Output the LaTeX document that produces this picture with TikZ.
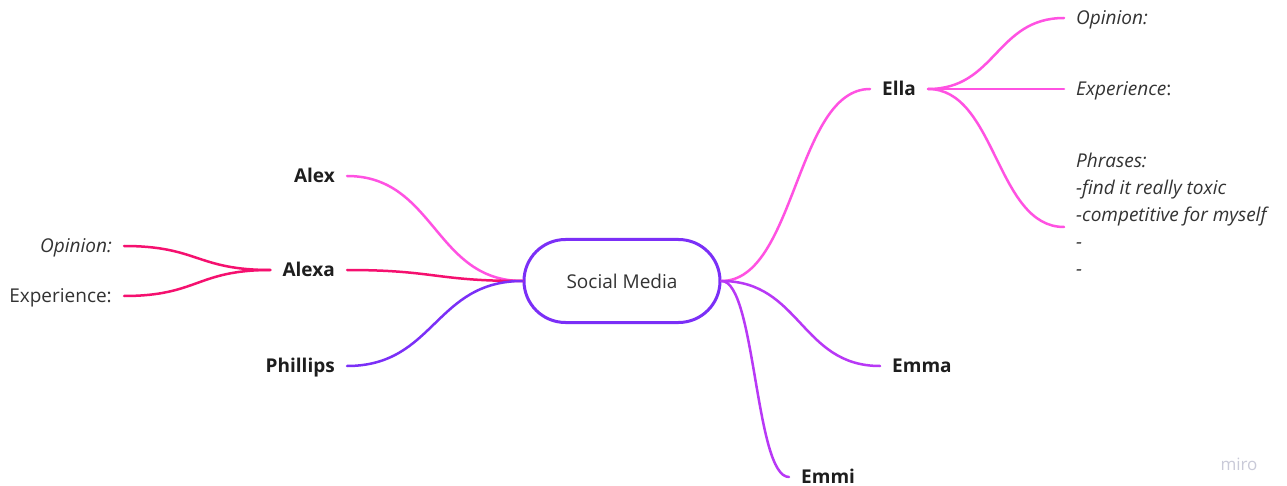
\documentclass[tikz,border=0pt]{standalone}
\usepackage{fontspec}
\setmainfont{Open Sans}
\usetikzlibrary{positioning}
\definecolor{pinkline}{HTML}{FF52E2}
\definecolor{redline}{HTML}{F5106F}
\definecolor{violetline}{HTML}{7B2FF7}
\definecolor{purpleline}{HTML}{B838F6}
\definecolor{textdark}{HTML}{1E1E1E}
\definecolor{textgray}{HTML}{333333}
\definecolor{mirogray}{HTML}{C9CAD8}

\begin{document}
\begin{tikzpicture}[x=1pt, y=-1pt,
  hub/.style = {draw = violetline, line width = 3pt, rounded corners = 41.5pt,
    minimum width = 196pt, minimum height = 83pt, text = textgray,
    font = \fontsize{19}{23}\selectfont},
  topic/.style = {text = textdark, inner xsep = 12pt, inner ysep = 0pt,
    text height = 13.6pt, text depth = 0pt, font = \bfseries\fontsize{19}{23}\selectfont},
  leaf/.style = {text = textgray, inner xsep = 12pt, inner ysep = 0pt,
    text height = 13.6pt, text depth = 0pt, font = \fontsize{19}{23}\selectfont},
  link/.style = {line width = 2.5pt, line cap = round}]

\fill[white] (0,0) rectangle (1287,486);
\useasboundingbox (0,0) rectangle (1287,486);

\node[hub] (sm) at (622,281) {Social Media};

\node[topic, anchor = east] (alex) at (347,176) {Alex};
\node[topic, anchor = east] (alexa) at (347,270) {Alexa};
\node[topic, anchor = east] (phillips) at (347,366) {Phillips};
\node[leaf, anchor = east] (aopinion) at (124,246) {\itshape Opinion:};
\node[leaf, anchor = east] (aexperience) at (124,296) {Experience:};

\node[topic, anchor = west] (ella) at (870,89) {Ella};
\node[topic, anchor = west] (emma) at (880,366) {Emma};
\node[topic, anchor = west] (emmi) at (789,477) {Emmi};
\node[leaf, anchor = west] (eopinion) at (1064,18) {\itshape Opinion:};
\node[leaf, anchor = west] (eexperience) at (1064,89) {\textit{Experience}:};
\coordinate (ephrases) at (1064,227);
\node[text = textgray, anchor = north west, inner xsep = 12pt, inner ysep = 0pt, align = left,
  font = \itshape\fontsize{19}{27}\selectfont] (phrases) at (1064,152.5)
  {Phrases:\\-find it really toxic\\-competitive for myself\\-\\-};

\foreach \name/\col in {alex/pinkline, alexa/redline, phillips/violetline}
  \draw[link, \col] (\name.east) .. controls +(88,0) and +(-88,0) .. (sm.west);

\draw[link, redline] (alexa.west) .. controls +(-74,0) and +(74,0) .. (aopinion.east);
\draw[link, redline] (alexa.west) .. controls +(-74,0) and +(74,0) .. (aexperience.east);

\draw[link, pinkline] (sm.east) .. controls +(74,0) and +(-74,0) .. (ella.west);
\draw[link, purpleline] (sm.east) .. controls +(79,0) and +(-79,0) .. (emma.west);
\draw[link, purpleline] (sm.east) .. controls +(34,0) and +(-34,0) .. (emmi.west);

\draw[link, pinkline] (ella.east) .. controls +(68,0) and +(-68,0) .. (eopinion.west);
\draw[link, pinkline] (ella.east) -- (eexperience.west);
\draw[link, pinkline] (ella.east) .. controls +(68,0) and +(-68,0) .. (ephrases);

\node[text = mirogray, font = \fontsize{17}{19}\selectfont] (miro) at (1239,464) {miro};
\end{tikzpicture}
\end{document}
